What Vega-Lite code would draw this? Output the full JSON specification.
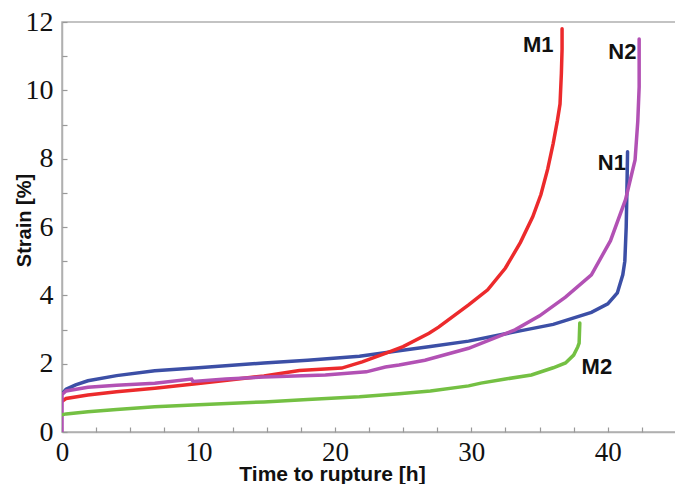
{
  "$schema": "https://vega.github.io/schema/vega-lite/v6.json",
  "width": 614,
  "height": 410,
  "autosize": {"type": "none"},
  "padding": {"left": 62, "top": 22, "right": 0, "bottom": 52},
  "background": "white",
  "config": {
    "view": {"stroke": "#b0b0b0", "strokeWidth": 1.5},
    "axis": {"grid": false}
  },
  "resolve": {"axis": {"x": "independent", "y": "independent"}},
  "datasets": {
    "curves": [
      {"series": "N1", "i": 0, "t": 0, "s": 1.12},
      {"series": "N1", "i": 1, "t": 0.3, "s": 1.25},
      {"series": "N1", "i": 2, "t": 1, "s": 1.38},
      {"series": "N1", "i": 3, "t": 1.9, "s": 1.5},
      {"series": "N1", "i": 4, "t": 4, "s": 1.65},
      {"series": "N1", "i": 5, "t": 6.8, "s": 1.79},
      {"series": "N1", "i": 6, "t": 10, "s": 1.88},
      {"series": "N1", "i": 7, "t": 14.8, "s": 2.02},
      {"series": "N1", "i": 8, "t": 18, "s": 2.1},
      {"series": "N1", "i": 9, "t": 21.8, "s": 2.22},
      {"series": "N1", "i": 10, "t": 24.7, "s": 2.38},
      {"series": "N1", "i": 11, "t": 27, "s": 2.5},
      {"series": "N1", "i": 12, "t": 29.8, "s": 2.66},
      {"series": "N1", "i": 13, "t": 33.2, "s": 2.93},
      {"series": "N1", "i": 14, "t": 36, "s": 3.15},
      {"series": "N1", "i": 15, "t": 38.8, "s": 3.5},
      {"series": "N1", "i": 16, "t": 40, "s": 3.75},
      {"series": "N1", "i": 17, "t": 40.7, "s": 4.07},
      {"series": "N1", "i": 18, "t": 41.1, "s": 4.6},
      {"series": "N1", "i": 19, "t": 41.25, "s": 5.0},
      {"series": "N1", "i": 20, "t": 41.35, "s": 6.0},
      {"series": "N1", "i": 21, "t": 41.4, "s": 7.0},
      {"series": "N1", "i": 22, "t": 41.45, "s": 8.2},
      {"series": "M1", "i": 0, "t": 0, "s": 0.9},
      {"series": "M1", "i": 1, "t": 0.3, "s": 0.98},
      {"series": "M1", "i": 2, "t": 1.9, "s": 1.08},
      {"series": "M1", "i": 3, "t": 4, "s": 1.18},
      {"series": "M1", "i": 4, "t": 6.8, "s": 1.28},
      {"series": "M1", "i": 5, "t": 10, "s": 1.42},
      {"series": "M1", "i": 6, "t": 14.8, "s": 1.64},
      {"series": "M1", "i": 7, "t": 17.4, "s": 1.8},
      {"series": "M1", "i": 8, "t": 20.5, "s": 1.87},
      {"series": "M1", "i": 9, "t": 22, "s": 2.05},
      {"series": "M1", "i": 10, "t": 23.7, "s": 2.3},
      {"series": "M1", "i": 11, "t": 25, "s": 2.5},
      {"series": "M1", "i": 12, "t": 26.9, "s": 2.89},
      {"series": "M1", "i": 13, "t": 27.6, "s": 3.07},
      {"series": "M1", "i": 14, "t": 29.8, "s": 3.72},
      {"series": "M1", "i": 15, "t": 31.2, "s": 4.16},
      {"series": "M1", "i": 16, "t": 32.5, "s": 4.8},
      {"series": "M1", "i": 17, "t": 33.6, "s": 5.55},
      {"series": "M1", "i": 18, "t": 34.5, "s": 6.3},
      {"series": "M1", "i": 19, "t": 35.1, "s": 6.95},
      {"series": "M1", "i": 20, "t": 35.6, "s": 7.7},
      {"series": "M1", "i": 21, "t": 36.0, "s": 8.45},
      {"series": "M1", "i": 22, "t": 36.3, "s": 9.1},
      {"series": "M1", "i": 23, "t": 36.5, "s": 9.6},
      {"series": "M1", "i": 24, "t": 36.6, "s": 10.5},
      {"series": "M1", "i": 25, "t": 36.65, "s": 11.2},
      {"series": "M1", "i": 26, "t": 36.65, "s": 11.8},
      {"series": "N2", "i": 0, "t": 0, "s": 0},
      {"series": "N2", "i": 1, "t": 0, "s": 1.1},
      {"series": "N2", "i": 2, "t": 0.3, "s": 1.2},
      {"series": "N2", "i": 3, "t": 1.9, "s": 1.31},
      {"series": "N2", "i": 4, "t": 4, "s": 1.37},
      {"series": "N2", "i": 5, "t": 6.8, "s": 1.43},
      {"series": "N2", "i": 6, "t": 9.5, "s": 1.55},
      {"series": "N2", "i": 7, "t": 9.6, "s": 1.48},
      {"series": "N2", "i": 8, "t": 12, "s": 1.55},
      {"series": "N2", "i": 9, "t": 14.8, "s": 1.61},
      {"series": "N2", "i": 10, "t": 19.3, "s": 1.67},
      {"series": "N2", "i": 11, "t": 22.3, "s": 1.76},
      {"series": "N2", "i": 12, "t": 23.7, "s": 1.9},
      {"series": "N2", "i": 13, "t": 24.7, "s": 1.96},
      {"series": "N2", "i": 14, "t": 26.6, "s": 2.1},
      {"series": "N2", "i": 15, "t": 29.8, "s": 2.45},
      {"series": "N2", "i": 16, "t": 33.2, "s": 2.99},
      {"series": "N2", "i": 17, "t": 35, "s": 3.4},
      {"series": "N2", "i": 18, "t": 36.9, "s": 3.95},
      {"series": "N2", "i": 19, "t": 38.8, "s": 4.6},
      {"series": "N2", "i": 20, "t": 40.2, "s": 5.6},
      {"series": "N2", "i": 21, "t": 41.3, "s": 6.8},
      {"series": "N2", "i": 22, "t": 42.0, "s": 7.96},
      {"series": "N2", "i": 23, "t": 42.2, "s": 9.1},
      {"series": "N2", "i": 24, "t": 42.3, "s": 10.1},
      {"series": "N2", "i": 25, "t": 42.3, "s": 11.5},
      {"series": "M2", "i": 0, "t": 0, "s": 0.5},
      {"series": "M2", "i": 1, "t": 0.3, "s": 0.53},
      {"series": "M2", "i": 2, "t": 1.9, "s": 0.59},
      {"series": "M2", "i": 3, "t": 4, "s": 0.66},
      {"series": "M2", "i": 4, "t": 6.8, "s": 0.74},
      {"series": "M2", "i": 5, "t": 10, "s": 0.8},
      {"series": "M2", "i": 6, "t": 14.8, "s": 0.88},
      {"series": "M2", "i": 7, "t": 18, "s": 0.95},
      {"series": "M2", "i": 8, "t": 21.8, "s": 1.03},
      {"series": "M2", "i": 9, "t": 24.7, "s": 1.12},
      {"series": "M2", "i": 10, "t": 27, "s": 1.2},
      {"series": "M2", "i": 11, "t": 29.8, "s": 1.35},
      {"series": "M2", "i": 12, "t": 30.7, "s": 1.43},
      {"series": "M2", "i": 13, "t": 32.5, "s": 1.55},
      {"series": "M2", "i": 14, "t": 34.4, "s": 1.67},
      {"series": "M2", "i": 15, "t": 36, "s": 1.88},
      {"series": "M2", "i": 16, "t": 36.9, "s": 2.02},
      {"series": "M2", "i": 17, "t": 37.5, "s": 2.25},
      {"series": "M2", "i": 18, "t": 37.8, "s": 2.49},
      {"series": "M2", "i": 19, "t": 37.9, "s": 2.6},
      {"series": "M2", "i": 20, "t": 37.95, "s": 3.19}
    ],
    "labels": [
      {"label": "M1", "t": 34.9, "s": 11.33},
      {"label": "N2", "t": 41.07, "s": 11.12},
      {"label": "N1", "t": 40.3, "s": 7.87},
      {"label": "M2", "t": 39.2, "s": 1.9}
    ]
  },
  "layer": [
    {
      "data": {"name": "curves"},
      "mark": {"type": "line", "strokeWidth": 3.5, "strokeCap": "round", "clip": true},
      "encoding": {
        "x": {
          "field": "t", "type": "quantitative",
          "scale": {"domain": [0, 45], "nice": false},
          "axis": {
            "orient": "bottom",
            "values": [0, 10, 20, 30, 40],
            "labelFont": "Liberation Serif", "labelFontSize": 27, "labelColor": "#111",
            "labelPadding": 7, "labelFlush": false, "labelOverlap": false,
            "ticks": false,
            "domainColor": "#b0b0b0", "domainWidth": 1.5,
            "title": "Time to rupture [h]",
            "titleFont": "Liberation Sans", "titleFontWeight": "bold", "titleFontSize": 21, "titleColor": "#111",
            "titleX": 270, "titleY": 31, "titleBaseline": "top", "titleAlign": "center", "titleAnchor": null
          }
        },
        "y": {
          "field": "s", "type": "quantitative",
          "scale": {"domain": [0, 12], "nice": false},
          "axis": {
            "orient": "left",
            "values": [0, 2, 4, 6, 8, 10, 12],
            "labelFont": "Liberation Serif", "labelFontSize": 28, "labelColor": "#111",
            "labelPadding": 9, "labelFlush": false, "labelOverlap": false,
            "ticks": false,
            "domainColor": "#b0b0b0", "domainWidth": 1.5,
            "title": "Strain [%]",
            "titleFont": "Liberation Sans", "titleFontWeight": "bold", "titleFontSize": 20, "titleColor": "#111",
            "titleX": -48, "titleY": 198, "titleBaseline": "top", "titleAlign": "center", "titleAngle": -90
          }
        },
        "color": {
          "field": "series", "type": "nominal",
          "scale": {"domain": ["M1", "M2", "N1", "N2"], "range": ["#ec2a2c", "#74c043", "#3c4fa6", "#b251b4"]},
          "legend": null
        },
        "order": {"field": "i", "type": "quantitative"}
      }
    },
    {
      "data": {"name": "labels"},
      "mark": {"type": "text", "font": "Liberation Sans", "fontWeight": "bold", "fontSize": 22, "color": "#111", "align": "center", "baseline": "middle"},
      "encoding": {
        "x": {
          "field": "t", "type": "quantitative",
          "axis": {
            "orient": "bottom",
            "values": [0, 2.5, 5, 7.5, 10, 12.5, 15, 17.5, 20, 22.5, 25, 27.5, 30, 32.5, 35, 37.5, 40, 42.5, 45],
            "offset": -5, "tickSize": 5, "tickColor": "#999", "tickWidth": 1.2,
            "domain": false, "labels": false, "title": null
          }
        },
        "y": {
          "field": "s", "type": "quantitative",
          "axis": {
            "orient": "left",
            "values": [0, 1, 2, 3, 4, 5, 6, 7, 8, 9, 10, 11, 12],
            "offset": -5, "tickSize": 5, "tickColor": "#999", "tickWidth": 1.2,
            "domain": false, "labels": false, "title": null
          }
        },
        "text": {"field": "label"}
      }
    }
  ]
}
